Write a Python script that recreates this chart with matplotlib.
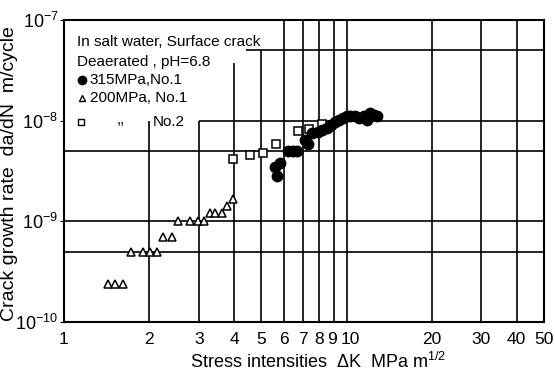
import matplotlib
matplotlib.use("Agg")
import matplotlib.pyplot as plt
from matplotlib.transforms import ScaledTranslation

FONT = "Liberation Sans"
plt.rcParams['font.family'] = [FONT, 'DejaVu Sans']
plt.rcParams['mathtext.fontset'] = 'custom'
plt.rcParams['mathtext.rm'] = FONT
plt.rcParams['mathtext.it'] = FONT

# 315 MPa, No.1 (filled circles)
dk_315 = [5.67, 5.58, 5.81, 6.2, 6.45, 6.68, 7.1, 7.3, 7.55, 7.93, 8.2, 8.5, 8.8,
          9.1, 9.4, 9.7, 10.0, 10.3, 10.7, 11.1, 11.5, 11.8, 12.1, 12.5, 12.8]
rate_315 = [2.8e-9, 3.5e-9, 3.8e-9, 5.0e-9, 5.0e-9, 5.0e-9, 6.5e-9, 5.9e-9, 7.6e-9,
            7.8e-9, 8.1e-9, 8.5e-9, 9.0e-9, 9.6e-9, 1.02e-8, 1.07e-8, 1.1e-8,
            1.12e-8, 1.1e-8, 1.07e-8, 1.1e-8, 1.02e-8, 1.2e-8, 1.15e-8, 1.1e-8]

# 200 MPa, No.1 (open triangles)
dk_200 = [1.43, 1.52, 1.62, 1.73, 1.90, 2.01, 2.13, 2.24, 2.41, 2.53, 2.79, 2.98,
          3.13, 3.29, 3.42, 3.62, 3.78, 3.96]
rate_200 = [2.4e-10, 2.4e-10, 2.4e-10, 5.0e-10, 5.0e-10, 5.0e-10, 5.0e-10, 7.0e-10,
            7.0e-10, 1.0e-9, 1.0e-9, 1.0e-9, 1.0e-9, 1.2e-9, 1.2e-9, 1.2e-9,
            1.42e-9, 1.65e-9]

# 200 MPa, No.2 (open squares)
dk_200b = [3.96, 4.55, 5.06, 5.63, 6.74, 7.37, 8.17]
rate_200b = [4.2e-9, 4.6e-9, 4.8e-9, 5.8e-9, 7.9e-9, 8.3e-9, 9.3e-9]

# graph-paper lines of the original (position, where the line stops)
vlines_x = [2, 3, 4, 5, 6, 7, 8, 9, 10, 20, 30, 40]
vlines_top = [1e-8, 1e-8, 3.7e-8, 5e-8, 1e-7, 1e-7, 1e-7, 1e-7, 1e-7, 1e-7, 1e-7, 1e-7]
hlines_y = [5e-8, 1e-8, 5e-9, 1e-9, 5e-10]
hlines_start = [4.4, 3.0, 1.0, 1.0, 1.0]

xticks = [1, 2, 3, 4, 5, 6, 7, 8, 9, 10, 20, 30, 40, 50]
yticks = [1e-10, 1e-9, 1e-8, 1e-7]
ytick_labels = [r'10$^{-10}$', r'10$^{-9}$', r'10$^{-8}$', r'10$^{-7}$']

fig = plt.figure(figsize=(5.55, 3.71), dpi=100)
ax = fig.add_axes([64 / 555, 49 / 371, 480 / 555, 302 / 371])
ax.set_xscale('log')
ax.set_yscale('log')
ax.set_xlim(1, 50)
ax.set_ylim(1e-10, 1e-7)

for x, top in zip(vlines_x, vlines_top):
    ax.vlines(x, 1e-10, top, color='black', lw=1.2)
for y, start in zip(hlines_y, hlines_start):
    ax.hlines(y, start, 50, color='black', lw=1.2)

ax.plot(dk_200, rate_200, ls='none', marker='^', ms=6, mfc='white', mec='black', mew=1.1, zorder=3)
ax.plot(dk_200b, rate_200b, ls='none', marker='s', ms=5.5, mfc='white', mec='black', mew=1.1, zorder=3)
ax.plot(dk_315, rate_315, ls='none', marker='o', ms=7.5, color='black', zorder=4)

ax.set_xticks(xticks)
ax.set_xticklabels([str(t) for t in xticks])
ax.xaxis.set_minor_locator(plt.NullLocator())
ax.set_yticks(yticks)
ax.set_yticklabels(ytick_labels)
ax.yaxis.set_minor_locator(plt.NullLocator())
ax.tick_params(axis='x', length=0, labelsize=12.5, pad=7)
ax.tick_params(axis='y', length=3, direction='out', labelsize=13, pad=1)
for s in ax.spines.values():
    s.set_linewidth(1.5)

# nudge crowded x labels apart (9 | 10)
xl = ax.get_xticklabels()
xl[8].set_transform(xl[8].get_transform() + ScaledTranslation(-1.5 / 100, 0, fig.dpi_scale_trans))
xl[9].set_transform(xl[9].get_transform() + ScaledTranslation(3.5 / 100, 0, fig.dpi_scale_trans))

ax.set_xlabel('Stress intensities  ΔK  MPa m$^{1/2}$', fontsize=13)
ax.xaxis.set_label_coords((318 - 64) / 480, -0.1, transform=ax.transAxes)
ax.set_ylabel('Crack growth rate  da/dN  m/cycle', fontsize=14)
ax.yaxis.set_label_coords((18 - 64) / 480, 0.49, transform=ax.transAxes)

# legend written as text block, like the original
tx = ax.transAxes
kw = dict(transform=tx, fontsize=11, va='center')
ax.text(0.027, 0.927, 'In salt water, Surface crack', **kw)
ax.text(0.027, 0.861, 'Deaerated , pH=6.8', **kw)
ax.plot([0.0375], [0.801], transform=tx, marker='o', ms=6, color='black', ls='none', clip_on=False)
ax.text(0.054, 0.801, '315MPa,No.1', **kw)
ax.plot([0.0375], [0.742], transform=tx, marker='^', ms=5, mfc='white', mec='black', ls='none', clip_on=False)
ax.text(0.054, 0.742, '200MPa, No.1', **kw)
ax.plot([0.035], [0.662], transform=tx, marker='s', ms=4.5, mfc='white', mec='black', ls='none', clip_on=False)
ax.text(0.11, 0.67, ',,', **kw)
ax.text(0.185, 0.662, 'No.2', **kw)

fig.savefig('out.png', dpi=100)
